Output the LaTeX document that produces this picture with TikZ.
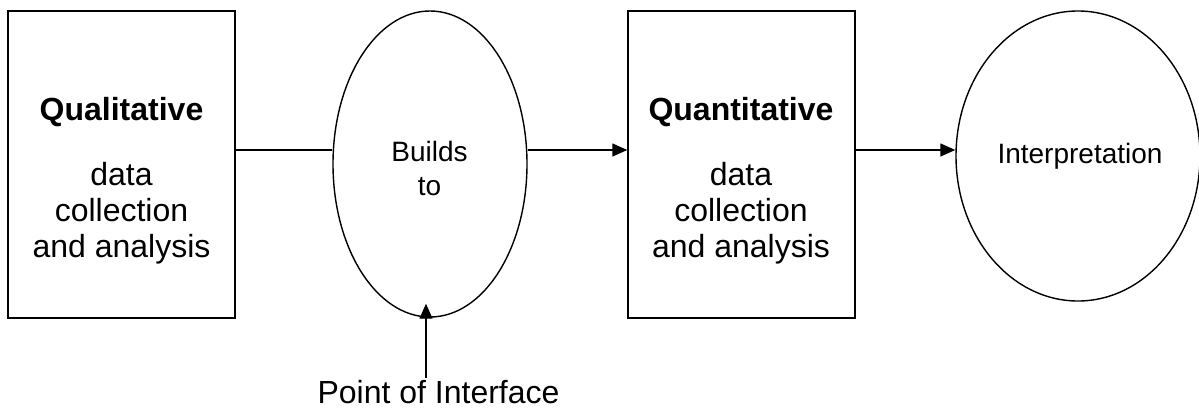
\documentclass[tikz,border=0pt]{standalone}
\usepackage{fontspec}
\setmainfont{Liberation Sans}
\usetikzlibrary{shapes.geometric,arrows.meta}
\begin{document}
\begin{tikzpicture}[x=1pt,y=-1pt,
  box/.style={draw,line width=1.4pt,minimum width=227pt,minimum height=307pt,inner sep=0pt},
  oval/.style={draw,ellipse,line width=1.4pt,inner sep=0pt},
  big/.style={font=\fontsize{32}{36}\selectfont,inner sep=0pt,anchor=base},
  mid/.style={font=\fontsize{28}{34}\selectfont,inner sep=0pt,anchor=base},
  arr/.style={line width=1.4pt,-{Triangle[length=15pt,width=13pt]}},
  ln/.style={line width=1.4pt}]
\useasboundingbox (0,0) rectangle (1199,408);
% shapes
\node[box] (q1) at (121.5,164.5) {};
\node[oval,minimum width=194pt,minimum height=306pt] (b) at (430,164) {};
\node[box] (q2) at (741.5,164.5) {};
\node[oval,minimum width=244pt,minimum height=290pt] (i) at (1078,156) {};
% texts
\node[big] (q1t) at (121.5,120) {\bfseries Qualitative};
\node[big] (q1a) at (121.5,185) {data};
\node[big] (q1b) at (121.5,221) {collection};
\node[big] (q1c) at (121.5,257) {and analysis};
\node[big] (q2t) at (741,120) {\bfseries Quantitative};
\node[big] (q2a) at (741,185) {data};
\node[big] (q2b) at (741,221) {collection};
\node[big] (q2c) at (741,257) {and analysis};
\node[mid] (bt1) at (429.5,161.5) {Builds};
\node[mid] (bt2) at (429.5,195.5) {to};
\node[mid] (it) at (1080,163) {Interpretation};
\node[big] (poi) at (438.5,403) {Point of Interface};
% connectors
\draw[ln] ([yshift=14.5pt]q1.east) -- ([yshift=14pt]b.west);
\draw[arr] ([yshift=14pt]b.east) -- ([yshift=14.5pt]q2.west);
\draw[arr] ([yshift=14.5pt]q2.east) -- ([yshift=6pt]i.west);
\coordinate (pstart) at (426,378);
\draw[arr] (pstart) -- ([xshift=-4pt,yshift=14pt]b.south);
\end{tikzpicture}
\end{document}
